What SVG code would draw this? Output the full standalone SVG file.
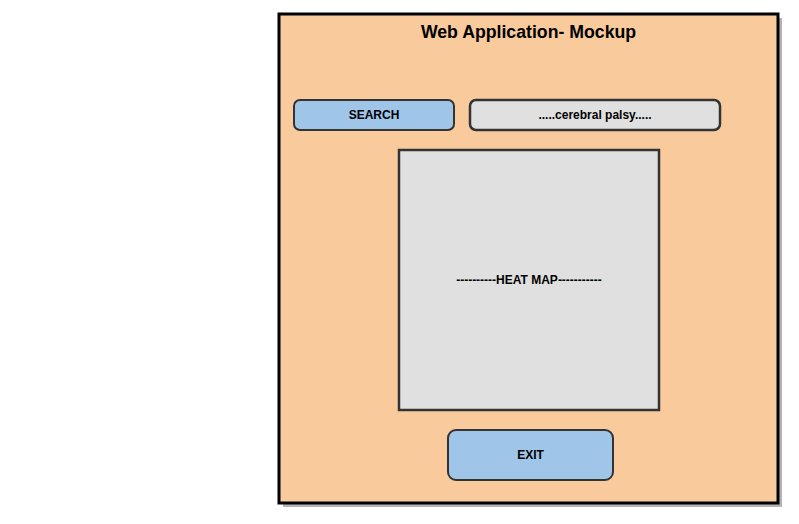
<svg xmlns="http://www.w3.org/2000/svg" width="799" height="524" viewBox="0 0 799 524">
<style>
text{font-family:"Liberation Sans",Arial,sans-serif;font-weight:bold;fill:#000;text-anchor:middle;dominant-baseline:central}
.btn{fill:#9fc5e8;stroke:#333;stroke-width:2}
.box{fill:#e0e0e0;stroke:#333;stroke-width:2.5}
</style>
<rect width="799" height="524" fill="#fff"/>
<g id="window">
<rect x="283" y="18" width="499" height="489" fill="#b3b3b3"/>
<rect x="279" y="14" width="499" height="489" fill="#f8ca9c" stroke="#000" stroke-width="3"/>
<text x="528.5" y="32" font-size="17.7">Web Application- Mockup</text>
</g>
<g id="search-button">
<rect class="btn" x="294" y="100" width="160" height="30" rx="6"/>
<text x="374" y="115" font-size="12">SEARCH</text>
</g>
<g id="search-field">
<rect class="box" x="470" y="100" width="250" height="30" rx="6"/>
<text x="595" y="115" font-size="12">.....cerebral palsy.....</text>
</g>
<g id="heat-map">
<rect class="box" x="399" y="150" width="260" height="260"/>
<text x="529" y="280" font-size="12">----------HEAT MAP-----------</text>
</g>
<g id="exit-button">
<rect class="btn" x="448" y="430" width="165" height="50" rx="8"/>
<text x="530.5" y="455" font-size="12">EXIT</text>
</g>
<g id="connectors"/>
</svg>
